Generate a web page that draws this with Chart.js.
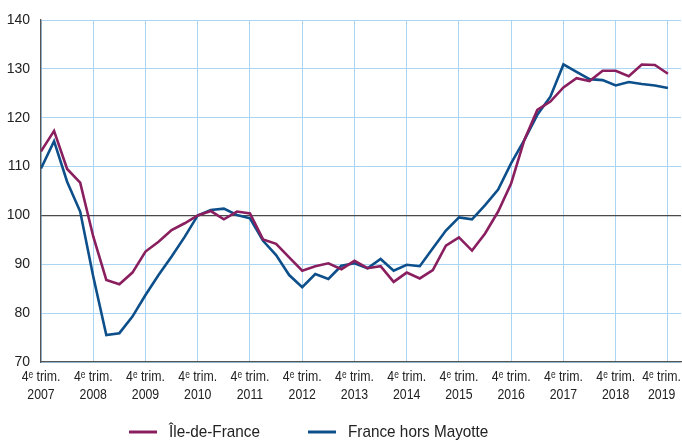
<!DOCTYPE html>
<html>
<head>
<meta charset="utf-8">
<script src="https://cdn.jsdelivr.net/npm/chart.js@4"></script>
<style>
  html, body { margin: 0; padding: 0; background: #ffffff; }
  #wrap { width: 682px; height: 440px; }
</style>
</head>
<body>
<div id="wrap"><canvas id="chart"></canvas></div>
<script>
// Tick labels (one per 4th quarter)
const years = ['2007', '2008', '2009', '2010', '2011', '2012', '2013', '2014', '2015', '2016', '2017', '2018', '2019'];
const quarterLabel = '4\u1D49 trim.';

// Quarterly index, 2007 Q4 -> 2019 Q4 (base 100 = 2010 Q4)
const ileDeFrance = [
  113.1,
  117.3, 109.5, 106.7, 95.7,
  86.8, 85.9, 88.3, 92.6,
  94.6, 97.0, 98.4, 100.0,
  100.9, 99.2, 100.8, 100.4,
  95.1, 94.2, 91.4, 88.7,
  89.6, 90.2, 89.0, 90.7,
  89.2, 89.6, 86.4, 88.3,
  87.1, 88.8, 93.8, 95.5,
  92.8, 96.3, 100.8, 106.6,
  115.4, 121.6, 123.3, 126.2,
  128.1, 127.5, 129.6, 129.6,
  128.5, 130.9, 130.8, 129.0
];
const franceHorsMayotte = [
  109.6,
  115.2, 106.9, 100.8, 87.5,
  75.5, 75.9, 79.3, 83.7,
  87.8, 91.6, 95.6, 100.0,
  101.1, 101.4, 100.1, 99.4,
  94.8, 91.9, 87.8, 85.3,
  88.0, 87.0, 89.7, 90.2,
  89.2, 91.1, 88.7, 89.9,
  89.6, 93.3, 96.9, 99.6,
  99.2, 102.1, 105.3, 110.7,
  115.4, 120.6, 124.3, 130.9,
  129.4, 127.9, 127.7, 126.6,
  127.3, 126.9, 126.6, 126.1
];

const FONT = '"Liberation Sans", Arial, sans-serif';
const PURPLE = '#8a1f60';
const BLUE = '#0c4f8a';
const GRID = '#a9d5f2';
const AXIS = '#555555';
const TEXT = '#222222';

function toPoints(arr) {
  return arr.map((v, i) => ({ x: i, y: v }));
}

// draw text squeezed horizontally (the source uses a condensed face)
function narrowText(ctx, text, cx, cy, squeeze) {
  ctx.save();
  ctx.translate(cx, cy);
  ctx.scale(squeeze, 1);
  ctx.fillText(text, 0, 0);
  ctx.restore();
}

// 🏷️ x tick labels + bottom legend drawn on the canvas
const extraText = {
  id: 'extraText',
  afterDraw(chart) {
    const ctx = chart.ctx;
    const xs = chart.scales.x;
    const sq = 0.82;

    ctx.save();
    ctx.fillStyle = TEXT;
    ctx.textAlign = 'center';
    ctx.textBaseline = 'middle';
    ctx.font = '15px ' + FONT;
    years.forEach((yr, i) => {
      let px = xs.getPixelForValue(i * 4);
      const half = Math.max(ctx.measureText(quarterLabel).width, ctx.measureText(yr).width) * sq / 2;
      px = Math.min(px, chart.width - half - 1);
      narrowText(ctx, quarterLabel, px, 377, sq);
      narrowText(ctx, yr, px, 395, sq);
    });

    // legend
    const items = [
      { text: 'Île-de-France', color: PURPLE, x: 129 },
      { text: 'France hors Mayotte', color: BLUE, x: 308 }
    ];
    const y = 432;
    ctx.textAlign = 'left';
    ctx.font = '17px ' + FONT;
    items.forEach(it => {
      ctx.strokeStyle = it.color;
      ctx.lineWidth = 3;
      ctx.beginPath();
      ctx.moveTo(it.x, y);
      ctx.lineTo(it.x + 28, y);
      ctx.stroke();
      narrowText(ctx, it.text, it.x + 40, y, 0.9);
    });
    ctx.restore();
  }
};

new Chart(document.getElementById('chart'), {
  type: 'line',
  data: {
    datasets: [
      { label: 'Île-de-France', data: toPoints(ileDeFrance), borderColor: PURPLE, borderWidth: 2.6, pointRadius: 0, tension: 0 },
      { label: 'France hors Mayotte', data: toPoints(franceHorsMayotte), borderColor: BLUE, borderWidth: 2.6, pointRadius: 0, tension: 0 }
    ]
  },
  options: {
    responsive: true,
    maintainAspectRatio: false,
    animation: false,
    layout: { padding: { top: 20, right: 1, bottom: 38, left: 0 } },
    plugins: {
      legend: { display: false },
      tooltip: { enabled: false }
    },
    scales: {
      x: {
        type: 'linear',
        min: 0,
        max: 49,
        afterBuildTicks: s => { s.ticks = years.map((y, i) => ({ value: i * 4 })); },
        afterFit: s => { s.height = 40; s.paddingLeft = 0; s.paddingRight = 0; },
        grid: { color: GRID, lineWidth: 1, drawTicks: false },
        border: { color: AXIS, width: 1.3 },
        ticks: { display: false }
      },
      y: {
        min: 70,
        max: 140,
        afterFit: s => { s.width = 41; },
        grid: {
          drawTicks: false,
          color: c => c.tick && c.tick.value === 100 ? '#4a4a4a' : GRID,
          lineWidth: c => c.tick && c.tick.value === 100 ? 1.3 : 1
        },
        border: { color: AXIS, width: 1.3 },
        ticks: {
          stepSize: 10,
          padding: 11,
          color: TEXT,
          font: { family: FONT, size: 14 }
        }
      }
    }
  },
  plugins: [extraText]
});
</script>
</body>
</html>
